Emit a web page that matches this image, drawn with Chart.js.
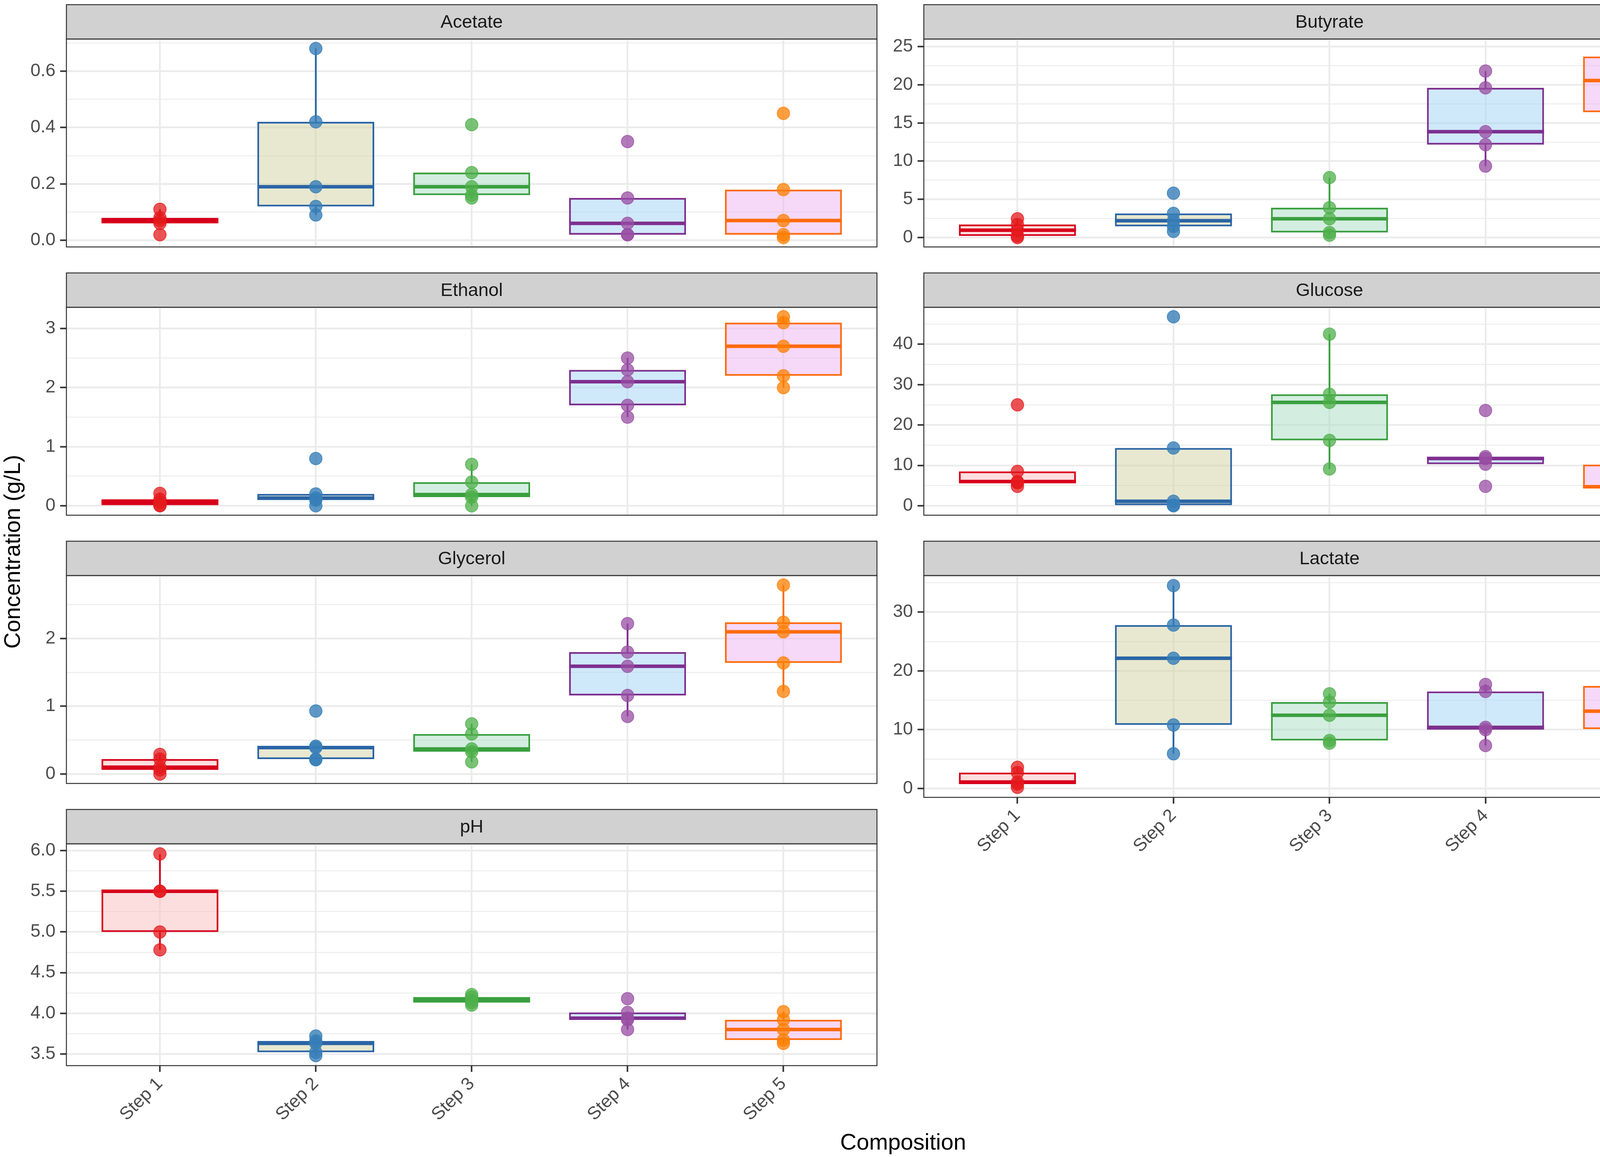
<!DOCTYPE html>
<html>
<head>
<meta charset="utf-8">
<title>Concentration by step</title>
<script src="https://cdn.jsdelivr.net/npm/chart.js@4.4.1/dist/chart.umd.min.js"></script>
<style>
  html, body { margin:0; padding:0; background:#fff; }
  #fig { position:relative; width:4459px; height:2963px; overflow:hidden; font-family:'Liberation Sans', Arial, sans-serif; }
  #fig canvas { position:absolute; }
  .axis-title { position:absolute; font-size:58px; color:#000; white-space:nowrap; }
  #ytitle { left:30px; top:1413px; transform:translate(-50%,-50%) rotate(-90deg); }
  #xtitle { left:2312px; top:2923px; transform:translate(-50%,-50%); }
</style>
</head>
<body>
<div id="fig">
  <div class="axis-title" id="ytitle">Concentration (g/L)</div>
  <div class="axis-title" id="xtitle">Composition</div>
</div>
<script>
const steps = ['Step 1', 'Step 2', 'Step 3', 'Step 4', 'Step 5'];

// five replicates per step (g/L, pH unitless)
const acetate  = [[0.02,0.06,0.07,0.08,0.11],[0.09,0.12,0.19,0.42,0.68],[0.15,0.16,0.19,0.24,0.41],[0.02,0.02,0.06,0.15,0.35],[0.01,0.02,0.07,0.18,0.45]];
const butyrate = [[0.0,0.2,0.95,1.7,2.45],[0.8,1.45,2.2,3.15,5.8],[0.3,0.65,2.45,3.9,7.85],[9.35,12.15,13.85,19.6,21.8],[12.65,16.4,20.55,23.7,24.75]];
const ethanol  = [[0.0,0.01,0.06,0.11,0.21],[0.0,0.095,0.13,0.2,0.8],[0.0,0.145,0.19,0.4,0.7],[1.5,1.7,2.1,2.3,2.5],[2.0,2.2,2.7,3.1,3.2]];
const glucose  = [[4.8,5.7,6.0,8.5,25.0],[0.0,0.15,1.1,14.3,46.8],[9.1,16.2,25.6,27.6,42.5],[4.8,10.3,11.7,12.15,23.6],[3.9,4.4,4.7,10.2,14.8]];
const glycerol = [[0.0,0.06,0.1,0.22,0.29],[0.21,0.22,0.39,0.41,0.93],[0.18,0.33,0.37,0.59,0.74],[0.85,1.16,1.59,1.8,2.22],[1.22,1.64,2.1,2.24,2.79]];
const lactate  = [[0.2,0.75,1.1,2.7,3.6],[5.9,10.8,22.15,27.8,34.5],[7.7,8.15,12.45,14.7,16.1],[7.3,10.0,10.4,16.5,17.7],[8.7,10.1,13.15,17.45,17.7]];
const ph       = [[4.78,5.0,5.5,5.5,5.96],[3.48,3.52,3.63,3.66,3.72],[4.1,4.13,4.16,4.2,4.23],[3.8,3.92,3.94,4.01,4.18],[3.63,3.67,3.8,3.92,4.02]];

// major tick labels per panel
const acetateTicks  = [0, 0.2, 0.4, 0.6];
const butyrateTicks = [0, 5, 10, 15, 20, 25];
const ethanolTicks  = [0, 1, 2, 3];
const glucoseTicks  = [0, 10, 20, 30, 40];
const glycerolTicks = [0, 1, 2];
const lactateTicks  = [0, 10, 20, 30];
const phTicks       = [3.5, 4.0, 4.5, 5.0, 5.5, 6.0];

const boxLine  = ['#D7001B', '#2A64A5', '#3A9F3F', '#7D2F8F', '#FF6A0D'];
const boxFill  = ['rgba(249,189,189,0.5)', 'rgba(209,209,161,0.5)', 'rgba(167,221,193,0.5)', 'rgba(161,211,245,0.5)', 'rgba(237,177,241,0.5)'];
const pointFill = ['rgba(228,26,28,0.75)', 'rgba(55,126,184,0.8)', 'rgba(77,175,74,0.75)', 'rgba(152,78,163,0.75)', 'rgba(255,127,0,0.75)'];

const FONT = "'Liberation Sans', Arial, sans-serif";
Chart.defaults.font.family = FONT;

// layout (px)
const COL_LEFT = [170, 2365], COL_RIGHT = [2257, 4454];
const ROW_TOP = 12, ROW_STEP = 687, STRIP_H = 88, PANEL_H = 568;
const Y_AXIS_W = 150;

const panels = [
  {name:'Acetate',  values:acetate,  ticks:acetateTicks,  dec:1, row:0, col:0, showX:false},
  {name:'Butyrate', values:butyrate, ticks:butyrateTicks, dec:0, row:0, col:1, showX:false},
  {name:'Ethanol',  values:ethanol,  ticks:ethanolTicks,  dec:0, row:1, col:0, showX:false},
  {name:'Glucose',  values:glucose,  ticks:glucoseTicks,  dec:0, row:1, col:1, showX:false},
  {name:'Glycerol', values:glycerol, ticks:glycerolTicks, dec:0, row:2, col:0, showX:false},
  {name:'Lactate',  values:lactate,  ticks:lactateTicks,  dec:0, row:2, col:1, showX:true},
  {name:'pH',       values:ph,       ticks:phTicks,       dec:1, row:3, col:0, showX:true}
];

function quantile(s, p) {
  const h = (s.length - 1) * p, lo = Math.floor(h), hi = Math.min(lo + 1, s.length - 1);
  return s[lo] + (h - lo) * (s[hi] - s[lo]);
}
function boxStats(vals) {
  const s = [...vals].sort((a, b) => a - b);
  const q1 = quantile(s, .25), med = quantile(s, .5), q3 = quantile(s, .75);
  const iqr = q3 - q1;
  const lo = Math.min(...s.filter(v => v >= q1 - 1.5 * iqr - 1e-9));
  const hi = Math.max(...s.filter(v => v <= q3 + 1.5 * iqr + 1e-9));
  return {q1, med, q3, lo, hi};
}
// majors plus the half-step minor lines that fall inside the range
function gridValues(major, min, max) {
  const half = (major[1] - major[0]) / 2, out = [];
  for (let v = major[0] - half; v <= max + 1e-9; v += half) {
    if (v >= min - 1e-9) out.push(+v.toFixed(6));
  }
  return out;
}

const fig = document.getElementById('fig');

panels.forEach(p => {
  const stats = p.values.map(boxStats);
  const all = p.values.flat();
  const dmin = Math.min(...all), dmax = Math.max(...all), pad = (dmax - dmin) * 0.05;
  const yMin = dmin - pad, yMax = dmax + pad;
  const grid = gridValues(p.ticks, yMin, yMax);
  const isMajor = v => p.ticks.some(t => Math.abs(t - v) < 1e-6);

  const xAxisH = p.showX ? 180 : 0;
  const w = Y_AXIS_W + (COL_RIGHT[p.col] - COL_LEFT[p.col]) + 6;
  const h = 4 + STRIP_H + PANEL_H + xAxisH + 4;
  const cv = document.createElement('canvas');
  cv.width = w; cv.height = h;
  cv.style.width = w + 'px'; cv.style.height = h + 'px';
  cv.style.left = (COL_LEFT[p.col] - Y_AXIS_W) + 'px';
  cv.style.top = (ROW_TOP + p.row * ROW_STEP - 4) + 'px';
  fig.appendChild(cv);

  const stripPlugin = {
    id: 'strip',
    beforeDraw(chart) {
      const {ctx, chartArea: a} = chart;
      ctx.save();
      ctx.fillStyle = '#D1D1D1';
      ctx.fillRect(a.left, a.top - STRIP_H, a.right - a.left, STRIP_H);
      ctx.strokeStyle = '#333'; ctx.lineWidth = 2.5;
      ctx.strokeRect(a.left, a.top - STRIP_H, a.right - a.left, STRIP_H);
      ctx.fillStyle = '#1A1A1A';
      ctx.font = '47px ' + FONT;
      ctx.textAlign = 'center'; ctx.textBaseline = 'middle';
      ctx.fillText(p.name, (a.left + a.right) / 2, a.top - STRIP_H / 2 + 2);
      ctx.restore();
    },
    afterDraw(chart) {
      const {ctx, chartArea: a} = chart;
      ctx.save();
      ctx.strokeStyle = '#333'; ctx.lineWidth = 2.5;
      ctx.strokeRect(a.left, a.top, a.right - a.left, a.bottom - a.top);
      ctx.restore();
    }
  };

  // medians and whiskers, drawn right after the boxes and under the points
  const boxPlugin = {
    id: 'boxparts',
    afterDatasetDraw(chart, args) {
      if (args.index !== 0) return;
      const {ctx, scales: {y}} = chart;
      ctx.save();
      ctx.lineCap = 'butt';
      args.meta.data.forEach((bar, i) => {
        const s = stats[i], half = bar.width / 2;
        ctx.strokeStyle = boxLine[i];
        ctx.lineWidth = 4.5;
        ctx.beginPath();
        if (s.hi > s.q3) { ctx.moveTo(bar.x, y.getPixelForValue(s.q3)); ctx.lineTo(bar.x, y.getPixelForValue(s.hi)); }
        if (s.lo < s.q1) { ctx.moveTo(bar.x, y.getPixelForValue(s.q1)); ctx.lineTo(bar.x, y.getPixelForValue(s.lo)); }
        ctx.stroke();
        ctx.lineWidth = 9;
        ctx.beginPath();
        ctx.moveTo(bar.x - half, y.getPixelForValue(s.med));
        ctx.lineTo(bar.x + half, y.getPixelForValue(s.med));
        ctx.stroke();
      });
      ctx.restore();
    }
  };

  const datasets = [{
    type: 'bar',
    data: stats.map((s, i) => ({x: i + 1, y: [s.q1, s.q3]})),
    backgroundColor: boxFill,
    borderColor: boxLine,
    borderWidth: 4.5,
    borderSkipped: false,
    barPercentage: 0.75,
    categoryPercentage: 1,
    order: 2
  }];
  p.values.forEach((vals, i) => {
    datasets.push({
      type: 'scatter',
      data: vals.map(v => ({x: i + 1, y: v})),
      backgroundColor: pointFill[i],
      borderColor: pointFill[i],
      borderWidth: 2,
      pointRadius: 16,
      pointHoverRadius: 16,
      order: 1
    });
  });

  new Chart(cv, {
    type: 'bar',
    data: {datasets},
    options: {
      responsive: false,
      animation: false,
      devicePixelRatio: 1,
      events: [],
      layout: {padding: {top: 4 + STRIP_H, left: 0, right: 6, bottom: 4}},
      plugins: {legend: {display: false}, tooltip: {enabled: false}, title: {display: false}},
      scales: {
        x: {
          type: 'linear', min: 0.4, max: 5.6, offset: false, bounds: 'data',
          afterBuildTicks: s => { s.ticks = steps.map((_, i) => ({value: i + 1})); },
          afterFit: s => { s.height = xAxisH; },
          border: {display: false},
          grid: {offset: false, color: '#EBEBEB', lineWidth: 4.5, drawTicks: p.showX, tickLength: 16, tickColor: '#333', tickWidth: 4},
          ticks: {
            display: p.showX, autoSkip: false, minRotation: 45, maxRotation: 45,
            callback: v => steps[Math.round(v) - 1],
            color: '#4D4D4D', font: {size: 46}, padding: 4
          }
        },
        y: {
          type: 'linear', min: yMin, max: yMax, bounds: 'data', beginAtZero: false,
          afterBuildTicks: s => { s.ticks = grid.map(v => ({value: v})); },
          afterFit: s => { s.width = Y_AXIS_W; },
          border: {display: false},
          grid: {
            color: '#EBEBEB',
            lineWidth: c => (c.tick && isMajor(c.tick.value)) ? 4.5 : 2.3,
            tickLength: 16,
            tickWidth: 4,
            tickColor: c => (c.tick && isMajor(c.tick.value)) ? '#333' : 'rgba(0,0,0,0)'
          },
          ticks: {
            autoSkip: false,
            callback: v => isMajor(v) ? v.toFixed(p.dec) : '',
            color: '#4D4D4D', font: {size: 46}, padding: 12
          }
        }
      }
    },
    plugins: [stripPlugin, boxPlugin]
  });
});
</script>
</body>
</html>
